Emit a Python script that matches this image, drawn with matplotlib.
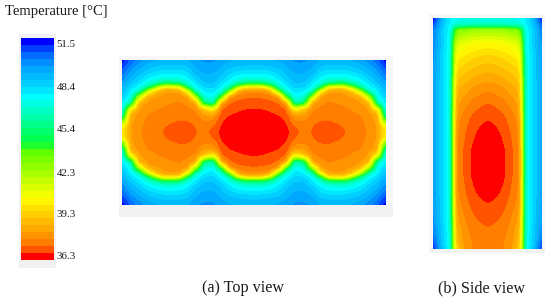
from __future__ import annotations

import matplotlib

matplotlib.use("Agg")
import matplotlib.pyplot as plt
import numpy as np
from matplotlib.colors import BoundaryNorm, LinearSegmentedColormap, ListedColormap
from matplotlib.patches import Rectangle

W, H = 550, 303
plt.rcParams["font.family"] = ["Liberation Serif", "DejaVu Serif"]

TICKS = [51.5, 48.4, 45.4, 42.3, 39.3, 36.3]
TEMP_MIN, TEMP_MAX, N_BANDS = 36.0, 51.9, 32
BAND_STOPS = [0, 1, 2, 3, 8.5, 15, 16.5, 23, 25, 27, 28, 29, 30, 31]
BAND_COLORS = ["#ff0000", "#ff5500", "#ff8000", "#ff9500", "#ffff00", "#60ff00", "#00ff40",
               "#00ffff", "#00d0ff", "#00a8ff", "#0090ff", "#0070ff", "#0040ff", "#0000ff"]

# top view: one quadrant, distance from the centre of the plate
top_dx = [0, 8, 16.5, 25, 33, 41, 49.5, 58, 66, 74, 82.5, 91, 99, 107, 115.5, 124, 132]
top_dy = [0, 6, 12, 18, 24, 30, 36, 42, 45, 48, 51, 55, 61, 67, 73]
top_columns = [
    [36.0, 36.05, 36.15, 36.3, 36.47, 36.75, 37.0, 37.7, 39.0, 43.3, 46.0, 47.3, 48.2, 48.8, 49.3],
    [36.05, 36.1, 36.2, 36.33, 36.5, 36.78, 37.05, 37.7, 39.0, 43.3, 46.0, 47.3, 48.2, 48.9, 49.35],
    [36.1, 36.13, 36.25, 36.4, 36.6, 36.85, 37.15, 38.2, 41.0, 45.0, 46.6, 47.5, 48.3, 48.95, 49.4],
    [36.2, 36.25, 36.35, 36.5, 36.75, 37.0, 37.6, 43.2, 46.0, 47.1, 47.6, 48.1, 48.6, 49.1, 49.5],
    [36.35, 36.4, 36.55, 36.75, 37.0, 37.9, 44.0, 47.3, 47.8, 48.1, 48.4, 48.8, 49.1, 49.4, 49.7],
    [36.75, 36.95, 37.4, 38.0, 40.5, 46.4, 47.6, 48.3, 48.5, 48.8, 49.0, 49.2, 49.5, 49.8, 50.0],
    [37.15, 37.25, 37.5, 38.0, 39.0, 45.3, 47.2, 48.0, 48.4, 48.7, 49.0, 49.2, 49.5, 49.8, 50.0],
    [36.95, 37.0, 37.1, 37.3, 37.6, 38.0, 42.0, 46.7, 47.5, 47.9, 48.2, 48.7, 49.2, 49.5, 49.85],
    [36.75, 36.85, 37.0, 37.2, 37.4, 37.6, 37.9, 40.5, 44.5, 46.6, 47.3, 47.9, 48.4, 49.0, 49.4],
    [36.75, 36.8, 36.98, 37.15, 37.3, 37.45, 37.6, 38.2, 39.8, 43.8, 46.3, 47.4, 48.2, 48.8, 49.3],
    [36.85, 36.92, 37.05, 37.2, 37.35, 37.5, 37.7, 38.0, 39.3, 43.3, 46.0, 47.3, 48.2, 48.8, 49.3],
    [36.97, 37.02, 37.1, 37.25, 37.42, 37.6, 37.8, 38.1, 39.4, 43.3, 46.0, 47.3, 48.2, 48.8, 49.3],
    [37.1, 37.15, 37.25, 37.4, 37.55, 37.75, 38.0, 39.0, 42.0, 45.3, 46.8, 47.6, 48.4, 49.0, 49.5],
    [37.3, 37.32, 37.38, 37.48, 37.7, 37.95, 38.2, 42.0, 45.3, 46.8, 47.5, 48.0, 48.7, 49.2, 49.7],
    [37.55, 37.6, 37.7, 37.85, 38.1, 38.3, 42.0, 46.8, 47.5, 48.0, 48.3, 48.7, 49.2, 49.7, 50.2],
    [38.0, 38.05, 38.2, 38.2, 40.5, 46.4, 47.5, 48.0, 48.3, 48.7, 49.0, 49.3, 49.8, 50.3, 50.8],
    [40.0, 40.3, 43.5, 46.5, 47.6, 48.1, 48.6, 49.1, 49.35, 49.6, 49.9, 50.2, 50.7, 51.2, 51.7],
]

# side view: one half, distance from the centre line / height from the top
side_dx = [0, 8, 16, 24, 30, 33, 35, 38, 44, 54.5]
side_y = [18, 22, 26, 28, 32, 43, 58, 73, 88, 103, 118, 133, 148, 163, 178, 193, 208, 223, 238, 248.7]
side_columns = [
    [47.2, 47.0, 45.5, 42.5, 42.0, 40.3, 39.2, 38.4, 37.6, 36.95, 36.5, 36.3, 36.2, 36.15, 36.2, 36.35, 36.55, 36.93, 37.15, 37.3],
    [47.2, 47.0, 45.5, 42.5, 42.0, 40.4, 39.3, 38.5, 37.7, 37.1, 36.6, 36.35, 36.25, 36.2, 36.25, 36.4, 36.65, 37.0, 37.2, 37.35],
    [47.3, 47.1, 45.6, 42.7, 42.2, 40.5, 39.5, 38.7, 37.9, 37.3, 36.85, 36.6, 36.42, 36.38, 36.42, 36.6, 36.9, 37.2, 37.4, 37.5],
    [47.4, 47.2, 45.8, 43.0, 42.4, 40.8, 39.8, 39.0, 38.3, 37.7, 37.25, 37.05, 36.92, 36.88, 36.95, 37.1, 37.35, 37.6, 37.8, 37.95],
    [47.5, 47.3, 46.0, 43.3, 42.7, 41.1, 40.0, 39.2, 38.5, 38.0, 37.6, 37.45, 37.35, 37.3, 37.35, 37.45, 37.7, 38.1, 38.5, 38.8],
    [47.6, 47.4, 46.2, 44.0, 43.4, 41.6, 40.6, 39.9, 39.3, 38.8, 38.4, 38.1, 37.9, 37.85, 37.9, 38.0, 38.3, 38.7, 39.2, 39.6],
    [47.7, 47.5, 46.8, 45.5, 45.0, 44.0, 43.5, 43.2, 43.0, 42.8, 42.6, 42.4, 42.3, 42.3, 42.3, 42.4, 42.6, 42.8, 43.0, 43.2],
    [48.0, 47.9, 47.8, 47.6, 47.6, 47.4, 47.3, 47.3, 47.2, 47.2, 47.2, 47.2, 47.2, 47.2, 47.2, 47.2, 47.2, 47.2, 47.3, 47.3],
    [48.8, 48.7, 48.5, 48.4, 48.4, 48.3, 48.3, 48.2, 48.2, 48.2, 48.2, 48.2, 48.2, 48.2, 48.2, 48.2, 48.3, 48.3, 48.4, 48.5],
    [51.8, 51.3, 50.8, 50.6, 50.4, 50.2, 50.0, 49.9, 49.8, 49.8, 49.8, 49.8, 49.8, 49.8, 49.8, 49.8, 49.9, 50.1, 50.6, 51.5],
]


def px_axes(fig, x0, y0, x1, y1):
    # pixel box, y measured from the top of the image
    return fig.add_axes([x0 / W, 1 - y1 / H, (x1 - x0) / W, (y1 - y0) / H])


def shadow(fig, x0, y0, x1, y1, color):
    fig.add_artist(Rectangle((x0 / W, 1 - y1 / H), (x1 - x0) / W, (y1 - y0) / H,
                             transform=fig.transFigure, color=color, lw=0, zorder=-5))


def soften(xs, ys, field, step=2.0):
    # resample onto an even grid and round off the grid corners of the readings
    new_x = np.arange(xs[0], xs[-1] + step / 2, step)
    new_y = np.arange(ys[0], ys[-1] + step / 2, step)
    rows = np.array([np.interp(new_x, xs, row) for row in field])
    grid = np.array([np.interp(new_y, ys, col) for col in rows.T]).T
    kernel = np.array([1, 2, 1]) / 4
    for axis in (0, 1):
        pad = [(1, 1), (1, 1)]
        pad[1 - axis] = (0, 0)
        padded = np.pad(grid, pad, mode="edge")
        grid = np.apply_along_axis(lambda v: np.convolve(v, kernel, mode="valid"), axis, padded)
    return new_x, new_y, grid


levels = np.linspace(TEMP_MIN, TEMP_MAX, N_BANDS + 1)
stops = [s / (N_BANDS - 1) for s in BAND_STOPS]
ramp = LinearSegmentedColormap.from_list("bands", list(zip(stops, BAND_COLORS)))
band_colors = [ramp(i / (N_BANDS - 1)) for i in range(N_BANDS)]

fig = plt.figure(figsize=(W / 100, H / 100), dpi=100, facecolor="white")
shadow(fig, 19, 34, 56, 268, "#f1f1f1")
shadow(fig, 119, 56, 393, 217, "#f7f7f7")
shadow(fig, 119, 205, 393, 217, "#f2f2f2")
shadow(fig, 429, 14, 545, 253, "#f7f7f7")
shadow(fig, 429, 248, 545, 253, "#f2f2f2")

# colour scale
cax = px_axes(fig, 21, 38, 54, 260)
centres = (levels[:-1] + levels[1:]) / 2
cax.pcolormesh([0, 1], levels, centres[:, None], cmap=ListedColormap(band_colors),
               norm=BoundaryNorm(levels, N_BANDS))
cax.set_xticks([])
cax.yaxis.tick_right()
cax.set_yticks(TICKS, [f"{t:.1f}" for t in TICKS], fontsize=7.8, color="#1a1a1a")
cax.tick_params(axis="y", length=0, pad=2)
for spine in cax.spines.values():
    spine.set_visible(False)

# top view, mirrored from the quadrant
top_q = np.array(top_columns).T
top_full = np.vstack([top_q[:0:-1], top_q])
top_full = np.hstack([top_full[:, :0:-1], top_full])
xs = np.concatenate([-np.array(top_dx[:0:-1]), top_dx])
ys = np.concatenate([-np.array(top_dy[:0:-1]), top_dy])
ax_top = px_axes(fig, 122, 59.5, 386, 205)
ax_top.contourf(*soften(xs, ys, top_full), levels=levels, colors=band_colors)
ax_top.set_axis_off()

# side view, mirrored from the half
side_half = np.array(side_columns).T
side_full = np.hstack([side_half[:, :0:-1], side_half])
xs = np.concatenate([-np.array(side_dx[:0:-1]), side_dx])
ax_side = px_axes(fig, 433, 18, 542, 248.7)
ax_side.contourf(*soften(xs, np.array(side_y), side_full), levels=levels, colors=band_colors)
ax_side.invert_yaxis()
ax_side.set_axis_off()

fig.text(5 / W, 1 - 12 / H, "Temperature [°C]", fontsize=10.5, va="center", color="#1a1a1a")
fig.text(243.5 / W, 1 - 288.5 / H, "(a) Top view", fontsize=11.6, ha="center", va="center", color="#1a1a1a")
fig.text(482 / W, 1 - 288.5 / H, "(b) Side view", fontsize=11.6, ha="center", va="center", color="#1a1a1a")

fig.savefig("out.png", dpi=100)
